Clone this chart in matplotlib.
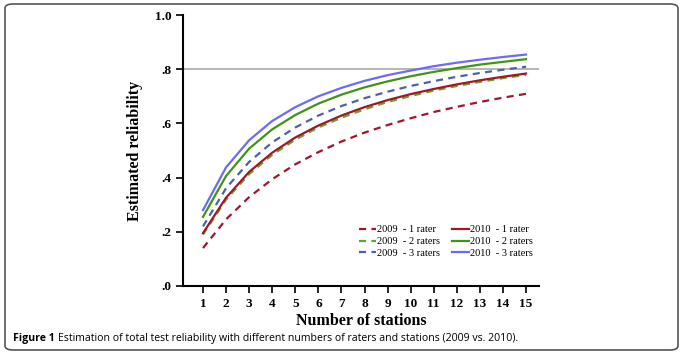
import matplotlib
matplotlib.use("Agg")
import matplotlib.pyplot as plt
from matplotlib.patches import FancyBboxPatch

stations = list(range(1, 16))
y2009_1 = [0.140, 0.246, 0.328, 0.394, 0.449, 0.494, 0.533, 0.566, 0.594, 0.619, 0.642, 0.661, 0.679, 0.695, 0.709]
y2009_2 = [0.190, 0.319, 0.413, 0.484, 0.540, 0.585, 0.621, 0.652, 0.679, 0.701, 0.721, 0.738, 0.753, 0.767, 0.779]
y2009_3 = [0.220, 0.361, 0.458, 0.530, 0.585, 0.629, 0.664, 0.693, 0.717, 0.738, 0.756, 0.772, 0.786, 0.798, 0.809]
y2010_1 = [0.195, 0.326, 0.421, 0.492, 0.548, 0.592, 0.629, 0.660, 0.686, 0.708, 0.727, 0.744, 0.759, 0.772, 0.784]
y2010_2 = [0.255, 0.406, 0.507, 0.578, 0.631, 0.673, 0.706, 0.733, 0.755, 0.774, 0.790, 0.804, 0.817, 0.827, 0.837]
y2010_3 = [0.280, 0.438, 0.538, 0.609, 0.660, 0.700, 0.731, 0.757, 0.778, 0.795, 0.811, 0.824, 0.835, 0.845, 0.854]
y_ticks = [0.0, 0.2, 0.4, 0.6, 0.8, 1.0]
y_tick_labels = [".0", ".2", ".4", ".6", ".8", "1.0"]
reference_line = 0.8

fig = plt.figure(figsize=(6.83, 3.54), dpi=100)
# rounded frame
frame = FancyBboxPatch((5/683, 4/354), 673/683, 346/354,
                       boxstyle="round,pad=0,rounding_size=0.012",
                       transform=fig.transFigure, fill=False,
                       edgecolor="#555555", linewidth=1.2)
fig.patches.append(frame)

ax = fig.add_axes([183/683, (354-286)/354, (539-183)/683, (286-15)/354])

serif = "Liberation Serif"
red = "#a3162a"
green_d = "#5ca82c"
green_s = "#3f9514"
blue_d = "#4a63a8"
blue_s = "#6b6cf5"

ax.axhline(reference_line, color="#aaaaaa", linewidth=1.2, zorder=1)

dash = (0, (3.2, 2.4))
ax.plot(stations, y2009_1, color=red, linestyle=dash, linewidth=1.6, label="2009  - 1 rater")
ax.plot(stations, y2009_2, color=green_d, linestyle=dash, linewidth=1.6, label="2009  - 2 raters")
ax.plot(stations, y2009_3, color=blue_d, linestyle=dash, linewidth=1.6, label="2009  - 3 raters")
ax.plot(stations, y2010_1, color=red, linestyle="-", linewidth=1.6, label="2010  - 1 rater")
ax.plot(stations, y2010_2, color=green_s, linestyle="-", linewidth=1.6, label="2010  - 2 raters")
ax.plot(stations, y2010_3, color=blue_s, linestyle="-", linewidth=1.6, label="2010  - 3 raters")

ax.set_xlim(1 - 20/23.07, 15 + 13/23.07)
ax.set_ylim(0, 1.0)
ax.set_xticks(stations)
ax.set_xticklabels([str(s) for s in stations], fontfamily=serif, fontweight="bold", fontsize=9.5)
ax.set_yticks(y_ticks)
ax.set_yticklabels(y_tick_labels, fontfamily=serif, fontweight="bold", fontsize=9.5)
ax.tick_params(axis="both", direction="out", length=5, width=1.2, color="black")
for s in ["top", "right"]:
    ax.spines[s].set_visible(False)
for s in ["left", "bottom"]:
    ax.spines[s].set_linewidth(1.5)

ax.set_xlabel("Number of stations", fontfamily=serif, fontweight="bold", fontsize=11.5, labelpad=2)
ax.set_ylabel("Estimated reliability", fontfamily=serif, fontweight="bold", fontsize=11.5, labelpad=8)

leg = ax.legend(ncol=2, loc="lower right", bbox_to_anchor=(1.0, 0.08), frameon=False,
                prop={"family": serif, "size": 7.5}, handlelength=1.6, handletextpad=0.1,
                columnspacing=1.2, labelspacing=0.25, borderaxespad=0.2)

fig.text(13/683, 1 - 338/354, "Figure 1", fontfamily="Open Sans", fontweight="bold", fontsize=7.6, va="center")
fig.text(58/683, 1 - 338/354, "Estimation of total test reliability with different numbers of raters and stations (2009 vs. 2010).",
         fontfamily="Open Sans", fontsize=7.6, va="center")

fig.savefig("out.png", dpi=100)
